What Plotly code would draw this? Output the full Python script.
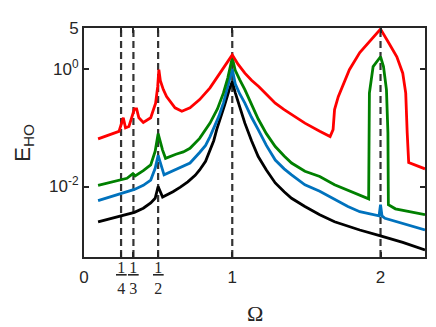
import plotly.graph_objects as go

# resonance positions (dashed lines)
resonances = [1 / 4, 1 / 3, 1 / 2, 1, 2]
frac_vals = [1 / 4, 1 / 3, 1 / 2]
frac_dens = ["4", "3", "2"]

# red curve
om_red = [0.095, 0.20, 0.236, 0.265, 0.28, 0.303, 0.326, 0.34, 0.355, 0.37, 0.40, 0.45,
          0.483, 0.497, 0.505, 0.515, 0.535, 0.557, 0.614, 0.66, 0.715, 0.78, 0.85, 0.895,
          0.93, 0.96, 1.0, 1.04, 1.085, 1.13, 1.18, 1.23, 1.29, 1.35, 1.40, 1.49, 1.59, 1.66,
          1.68, 1.69, 1.715, 1.75, 1.79, 1.86, 1.93, 2.0, 2.05, 2.11, 2.15, 2.17, 2.18, 2.19,
          2.30]
E_red = [0.0646, 0.0794, 0.0871, 0.148, 0.1, 0.105, 0.166, 0.209, 0.209, 0.148, 0.123, 0.148,
         0.263, 0.501, 0.977, 0.631, 0.447, 0.339, 0.219, 0.191, 0.219, 0.302, 0.479, 0.708,
         0.955, 1.26, 1.74, 1.20, 0.851, 0.646, 0.501, 0.372, 0.263, 0.204, 0.170, 0.120, 0.0871,
         0.0708, 0.0933, 0.204, 0.339, 0.575, 0.977, 1.91, 3.09, 4.79, 2.95, 1.62, 0.851,
         0.389, 0.0813, 0.0257, 0.0200]

# green curve
om_green = [0.095, 0.24, 0.29, 0.33, 0.345, 0.40, 0.45, 0.48, 0.50, 0.53, 0.55, 0.62, 0.67,
            0.715, 0.78, 0.85, 0.90, 0.94, 0.97, 1.0, 1.02, 1.05, 1.085, 1.13, 1.175, 1.23,
            1.29, 1.35, 1.40, 1.49, 1.59, 1.69, 1.78, 1.86, 1.92, 1.925, 1.94, 1.95, 2.0, 2.02,
            2.04, 2.05, 2.053, 2.10, 2.30]
E_green = [0.0105, 0.0126, 0.0138, 0.0166, 0.0151, 0.0186, 0.0234, 0.0398, 0.0794, 0.0417,
           0.0302, 0.0355, 0.0389, 0.0447, 0.0661, 0.120, 0.209, 0.389, 0.708, 1.55, 0.955,
           0.661, 0.447, 0.251, 0.141, 0.0794, 0.0479, 0.0331, 0.0251, 0.0182, 0.0148, 0.0107,
           0.00871, 0.00724, 0.00617, 0.389, 0.661, 1.10, 1.62, 1.10, 0.447, 0.0813, 0.0049,
           0.00417, 0.00331]

# blue curve
om_blue = [0.095, 0.24, 0.34, 0.40, 0.45, 0.48, 0.50, 0.54, 0.61, 0.66, 0.715, 0.78, 0.82,
           0.85, 0.88, 0.91, 0.94, 0.97, 1.0, 1.02, 1.05, 1.085, 1.13, 1.175, 1.23, 1.29, 1.35,
           1.40, 1.49, 1.59, 1.69, 1.78, 1.86, 1.99, 2.0, 2.01, 2.03, 2.30]
E_blue = [0.00575, 0.00741, 0.00891, 0.0105, 0.0129, 0.0204, 0.0339, 0.0158, 0.0191, 0.0214,
          0.0251, 0.0380, 0.0501, 0.0708, 0.105, 0.158, 0.263, 0.501, 1.0, 0.562, 0.380,
          0.263, 0.151, 0.0933, 0.0501, 0.0282, 0.0200, 0.0158, 0.0107, 0.00832, 0.00617,
          0.00457, 0.00372, 0.00316, 0.0049, 0.00316, 0.00288, 0.00182]

# black curve
om_black = [0.095, 0.24, 0.34, 0.40, 0.45, 0.48, 0.50, 0.53, 0.60, 0.65, 0.70, 0.75, 0.78,
            0.82, 0.85, 0.875, 0.895, 0.915, 0.93, 0.95, 0.98, 1.0, 1.02, 1.05, 1.085, 1.13,
            1.175, 1.23, 1.29, 1.35, 1.40, 1.49, 1.59, 1.69, 1.78, 1.86, 2.0, 2.15, 2.30]
E_black = [0.00251, 0.00309, 0.00363, 0.00427, 0.00525, 0.00631, 0.0100, 0.00661, 0.00813,
           0.00977, 0.0120, 0.0155, 0.0191, 0.0269, 0.0407, 0.0603, 0.0933, 0.132, 0.178,
           0.251, 0.447, 0.617, 0.398, 0.224, 0.120, 0.0603, 0.0324, 0.0191, 0.0115, 0.00813,
           0.00631, 0.00457, 0.00331, 0.00251, 0.00209, 0.00182, 0.00145, 0.00112, 0.000832]

series = [
    (om_black, E_black, "#000000"),
    (om_blue, E_blue, "#0072BD"),
    (om_green, E_green, "#008000"),
    (om_red, E_red, "#FF0000"),
]

fig = go.Figure()
for om, E, col in series:
    fig.add_trace(go.Scatter(x=om, y=E, mode="lines",
                             line=dict(color=col, width=2.8), showlegend=False))

for r in resonances:
    fig.add_vline(x=r, line=dict(color="#333333", width=2.2, dash="7px,4px"), layer="below")

axis_common = dict(showline=True, linecolor="#262626", linewidth=2, mirror="ticks",
                   ticks="inside", ticklen=5, tickwidth=1.5, tickcolor="#262626",
                   showgrid=False, zeroline=False, automargin=False,
                   tickfont=dict(family="Liberation Sans", size=17, color="#262626"))

# page body has an 8px margin, so the figure is a bit smaller than the window
fig.update_layout(
    width=428, height=319,
    margin=dict(l=76, r=11, t=20, b=70),
    paper_bgcolor="white", plot_bgcolor="white",
    xaxis=dict(range=[0, 2.3], tickvals=[0, 0.25, 1 / 3, 0.5, 1, 2],
               ticktext=["0", "", "", "", "1", "2"], ticklabelstandoff=4, **axis_common),
    yaxis=dict(type="log", range=[-3.2, 0.699], tickvals=[0.01, 1, 5],
               ticktext=["10<sup>-2</sup>", "10<sup>0</sup>", "5"], **axis_common),
)

for v, d in zip(frac_vals, frac_dens):
    fig.add_annotation(x=v, xref="x", y=-0.09, yref="paper", yanchor="middle",
                       text="<u>\u200a1\u200a</u><br>" + d, showarrow=False,
                       font=dict(family="Liberation Serif", size=16, color="#262626"))

fig.add_annotation(x=0.5, xref="paper", y=-0.245, yref="paper", yanchor="middle",
                   text="Ω", showarrow=False,
                   font=dict(family="Liberation Serif", size=22, color="#262626"))
fig.add_annotation(x=-0.225, xref="paper", y=0.5, yref="paper", textangle=-90,
                   text="E<sub>HO</sub>", showarrow=False,
                   font=dict(family="Liberation Sans", size=22, color="#262626"))

fig.write_html("out.html")
